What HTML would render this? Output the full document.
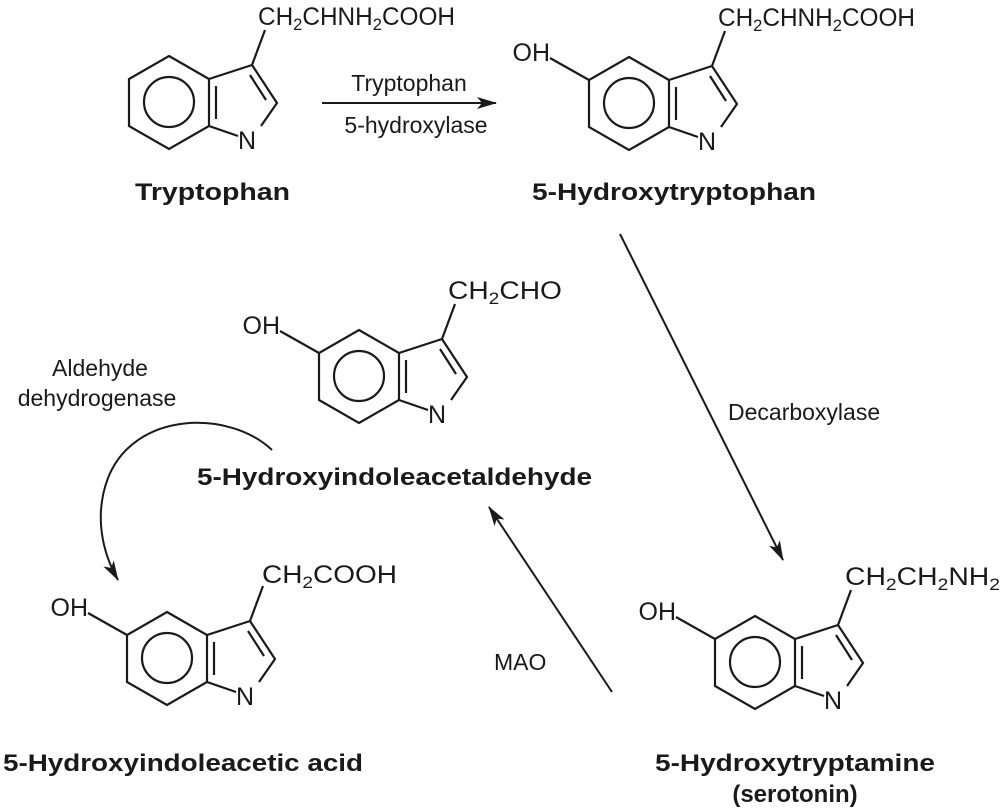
<!DOCTYPE html>
<html><head><meta charset="utf-8"><style>
html,body{margin:0;padding:0;background:#fff;}
svg{display:block;}
text{font-family:"Liberation Sans",Arial,sans-serif;fill:#1a1a1a;}
.r{font-size:25px;}
.s{font-size:17px;}
.b{font-size:24px;font-weight:bold;}
.e{font-size:23px;}
</style></head><body>
<svg width="1000" height="808" viewBox="0 0 1000 808" xmlns="http://www.w3.org/2000/svg">
<defs>
<marker id="ah" viewBox="0 0 20 12" refX="19" refY="6" markerWidth="20" markerHeight="12" markerUnits="userSpaceOnUse" orient="auto">
<path d="M0,0 L20,6 L0,12 L5,6 Z" fill="#1a1a1a"/>
</marker>
<g id="ind" fill="none" stroke="#1a1a1a" stroke-width="2.2">
<path d="M169,56 L209,79 L209,126 L169,149 L129,126 L129,79 Z"/>
<circle cx="169" cy="102" r="25"/>
<path d="M209,79 L252,65 L277,103 L261,126 M209,126 L238,136 M250,75 L266,100 M216,86 L216,119 M252,65 L265,30"/>
</g>
<path id="oh" d="M129,79 L90,57" fill="none" stroke="#1a1a1a" stroke-width="2.2"/>
</defs>

<!-- Tryptophan -->
<use href="#ind"/>
<text class="r" x="238" y="149">N</text>
<text class="r" x="258" y="25" textLength="197" lengthAdjust="spacingAndGlyphs">CH<tspan class="s" dy="5">2</tspan><tspan dy="-5">CHNH</tspan><tspan class="s" dy="5">2</tspan><tspan dy="-5">COOH</tspan></text>
<text class="b" x="135" y="200" textLength="155" lengthAdjust="spacingAndGlyphs">Tryptophan</text>

<!-- 5-HTP -->
<g transform="translate(460,1)">
<use href="#ind"/><use href="#oh"/>
<text class="r" x="238" y="149">N</text>
<text class="r" x="258" y="25" textLength="197" lengthAdjust="spacingAndGlyphs">CH<tspan class="s" dy="5">2</tspan><tspan dy="-5">CHNH</tspan><tspan class="s" dy="5">2</tspan><tspan dy="-5">COOH</tspan></text>
<text class="r" x="90" y="60" text-anchor="end">OH</text>
</g>
<text class="b" x="532" y="200" textLength="284" lengthAdjust="spacingAndGlyphs">5-Hydroxytryptophan</text>

<!-- 5-HIAL -->
<g transform="translate(190,274)">
<use href="#ind"/><use href="#oh"/>
<text class="r" x="238" y="149">N</text>
<text class="r" x="258" y="25" textLength="114" lengthAdjust="spacingAndGlyphs">CH<tspan class="s" dy="5">2</tspan><tspan dy="-5">CHO</tspan></text>
<text class="r" x="90" y="60" text-anchor="end">OH</text>
</g>
<text class="b" x="197" y="485" textLength="395" lengthAdjust="spacingAndGlyphs">5-Hydroxyindoleacetaldehyde</text>

<!-- 5-HIAA -->
<g transform="translate(-2,556)">
<use href="#ind"/><use href="#oh"/>
<text class="r" x="238" y="149">N</text>
<text class="r" x="264" y="27" textLength="135" lengthAdjust="spacingAndGlyphs">CH<tspan class="s" dy="5">2</tspan><tspan dy="-5">COOH</tspan></text>
<text class="r" x="90" y="60" text-anchor="end">OH</text>
</g>
<text class="b" x="3" y="771" textLength="360" lengthAdjust="spacingAndGlyphs">5-Hydroxyindoleacetic acid</text>

<!-- Serotonin -->
<g transform="translate(586,560)">
<use href="#ind"/><use href="#oh"/>
<text class="r" x="238" y="149">N</text>
<text class="r" x="259" y="25" textLength="155" lengthAdjust="spacingAndGlyphs">CH<tspan class="s" dy="5">2</tspan><tspan dy="-5">CH</tspan><tspan class="s" dy="5">2</tspan><tspan dy="-5">NH</tspan><tspan class="s" dy="5">2</tspan></text>
<text class="r" x="90" y="60" text-anchor="end">OH</text>
</g>
<text class="b" x="655" y="771" textLength="280" lengthAdjust="spacingAndGlyphs">5-Hydroxytryptamine</text>
<text class="b" x="795" y="802" text-anchor="middle">(serotonin)</text>

<!-- arrows -->
<g fill="none" stroke="#1a1a1a" stroke-width="2">
<line x1="322" y1="103" x2="496" y2="103" marker-end="url(#ah)"/>
<line x1="620" y1="234" x2="783" y2="560" marker-end="url(#ah)"/>
<line x1="612" y1="692" x2="489" y2="507" marker-end="url(#ah)"/>
<path d="M272,450 C230,410 135,410 108,478 C94,515 102,552 118,580" marker-end="url(#ah)"/>
</g>
<text class="e" x="409" y="91" text-anchor="middle">Tryptophan</text>
<text class="e" x="416" y="133" text-anchor="middle">5-hydroxylase</text>
<text class="e" x="728" y="420">Decarboxylase</text>
<text class="e" x="494" y="670">MAO</text>
<text class="e" x="100" y="376" text-anchor="middle">Aldehyde</text>
<text class="e" x="97" y="406" text-anchor="middle">dehydrogenase</text>
</svg>
</body></html>
